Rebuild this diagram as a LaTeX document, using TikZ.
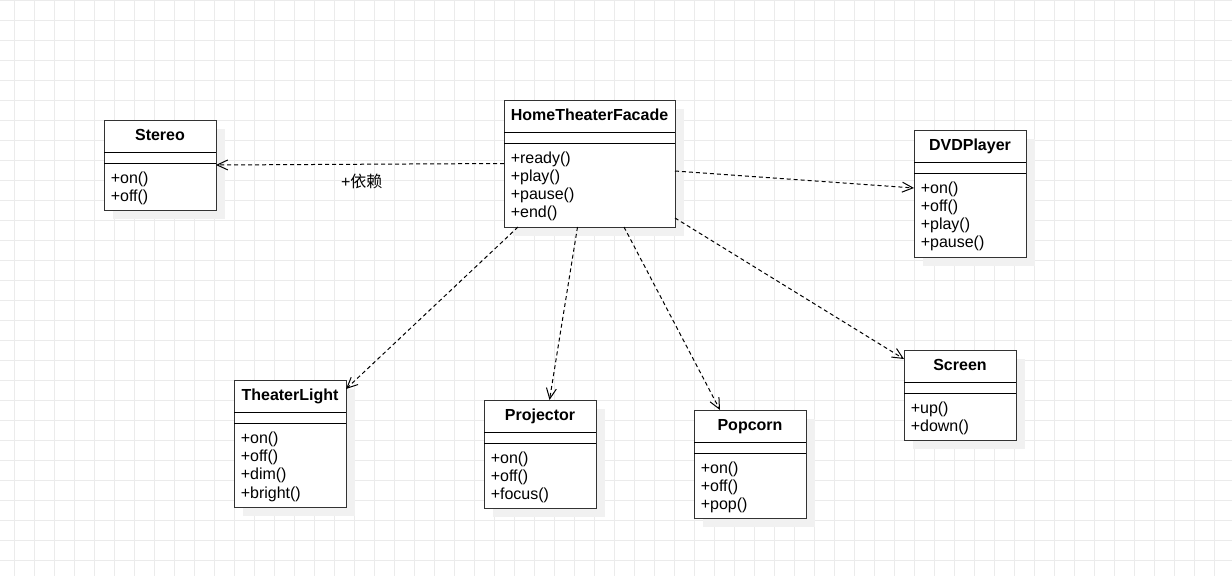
\documentclass[tikz,border=0pt]{standalone}
\usepackage{fontspec}
\setmainfont{Liberation Sans}
\newfontfamily\cjkfont{Noto Sans CJK SC}
\usetikzlibrary{arrows.meta,calc}

\definecolor{gridgray}{HTML}{EBEBEB}
\definecolor{shadowgray}{HTML}{F1F1F1}
\definecolor{boxborder}{HTML}{333333}

\tikzset{
  gridline/.style={draw=gridgray, line width=0.75pt},
  boxshadow/.style={fill=shadowgray},
  classbox/.style={draw=boxborder, fill=white, line width=0.75pt,
    inner sep=0pt, outer sep=0pt, anchor=north west},
  divider/.style={draw=black, line width=0.75pt},
  classtitle/.style={font=\bfseries\fontsize{12pt}{14pt}\selectfont,
    anchor=base, inner sep=0pt},
  method/.style={font=\fontsize{12pt}{14pt}\selectfont,
    anchor=base west, inner sep=0pt},
  deplabel/.style={font=\fontsize{12pt}{14pt}\selectfont, inner sep=0pt},
  dep/.style={draw=black, line width=0.75pt, dash pattern=on 3pt off 2.25pt,
    -{Straight Barb[length=8pt,width=7.5pt]}},
}

% UML class: #1 name, #2 left, #3 top, #4 width, #5 height (px), #6 title, #7 operations
\newcommand\umlclass[7]{%
  \fill[boxshadow] (#2+9,#3+9) rectangle ++(#4,#5);
  \node[classbox, minimum width=#4*0.75pt, minimum height=#5*0.75pt] (#1) at (#2,#3) {};
  \draw[divider] ($(#1.north west)+(0,32)$) -- ($(#1.north east)+(0,32)$);
  \draw[divider] ($(#1.north west)+(0,43.5)$) -- ($(#1.north east)+(0,43.5)$);
  \node[classtitle] (#1-title) at (#2+#4/2,#3+20.7) {#6};
  \foreach \m [count=\i from 0] in {#7}
    \node[method] (#1-op\i) at (#2+6.5,#3+63+\i*18.33) {\m};
}

\begin{document}
\begin{tikzpicture}[x=0.75pt,y=-0.75pt]
  % canvas and grid
  \fill[white] (0,0) rectangle (1232,576);
  \useasboundingbox (0,0) rectangle (1232,576);
  \begin{scope}
    \clip (0,0) rectangle (1232,576);
    \foreach \x in {14,34,...,1214} \draw[gridline] (\x,0) -- (\x,576);
    \foreach \y in {0,20,...,560} \draw[gridline] (0,\y) -- (1232,\y);
  \end{scope}

  % classes
  \umlclass{facade}{504}{100}{171}{127}{HomeTheaterFacade}{+ready(),+play(),+pause(),+end()}
  \umlclass{stereo}{104}{120}{112}{90}{Stereo}{+on(),+off()}
  \umlclass{dvd}{914}{130}{112}{127}{DVDPlayer}{+on(),+off(),+play(),+pause()}
  \umlclass{light}{234}{380}{112}{127}{TheaterLight}{+on(),+off(),+dim(),+bright()}
  \umlclass{projector}{484}{400}{112}{108}{Projector}{+on(),+off(),+focus()}
  \umlclass{popcorn}{694}{410}{112}{108}{Popcorn}{+on(),+off(),+pop()}
  \umlclass{screen}{904}{350}{112}{90}{Screen}{+up(),+down()}

  % dependencies
  \draw[dep] (facade.west) -- (stereo.east);
  \node[deplabel] (deplbl) at (361.7,181.7) {+{\cjkfont 依赖}};
  \draw[dep] ($(facade.north east)+(0,71)$) -- ($(dvd.north west)+(0,58)$);
  \draw[dep] ($(facade.south west)+(14,0)$) -- ($(light.north east)+(0,9)$);
  \draw[dep] ($(facade.south west)+(73.5,0)$) -- ($(projector.north west)+(65.5,0)$);
  \draw[dep] ($(facade.south west)+(120,0)$) -- ($(popcorn.north west)+(26,0)$);
  \draw[dep] ($(facade.south east)+(0,-9)$) -- ($(screen.north west)+(0,9)$);
\end{tikzpicture}
\end{document}
